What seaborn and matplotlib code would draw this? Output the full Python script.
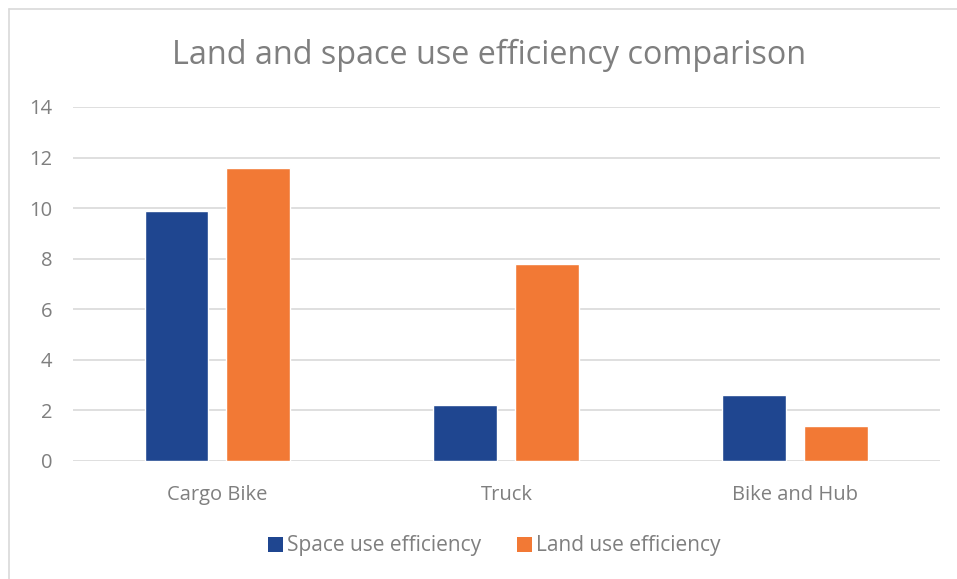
import matplotlib
matplotlib.use("Agg")
import matplotlib.pyplot as plt
from matplotlib.lines import Line2D
from matplotlib.patches import Patch
import seaborn as sns
import pandas as pd

categories = ["Cargo Bike", "Truck", "Bike and Hub"]
space_use = [9.9, 2.2, 2.6]
land_use = [11.6, 7.8, 1.4]
series_names = ["Space use efficiency", "Land use efficiency"]
colors = ["#1F4690", "#F27935"]
y_ticks = [0, 2, 4, 6, 8, 10, 12, 14]

df = pd.DataFrame({
    "category": categories * 2,
    "value": space_use + land_use,
    "series": [series_names[0]] * 3 + [series_names[1]] * 3,
})

sns.set_theme(style="white")
plt.rcParams["font.family"] = ["Open Sans", "DejaVu Sans"]
text_color = "#7F7F7F"

fig = plt.figure(figsize=(9.57, 5.79), dpi=100)
ax = fig.add_axes([0.0763, 0.2038, 0.9057, 0.6114])

sns.barplot(data=df, x="category", y="value", hue="series",
            palette=colors, width=0.567, gap=0.22, ax=ax,
            legend=False, saturation=1)

ax.set_ylim(0, 14)
ax.set_xlim(-0.5, 2.5)
ax.set_yticks(y_ticks)
ax.yaxis.grid(True, color="#D9D9D9", linewidth=1.2)
ax.set_axisbelow(True)
for s in ax.spines.values():
    s.set_visible(False)
ax.set_xlabel("")
ax.set_ylabel("")
ax.tick_params(axis="both", length=0, labelsize=14.5, colors=text_color)
ax.tick_params(axis="y", pad=15)
ax.tick_params(axis="x", pad=17.5)
for lbl in ax.get_yticklabels():
    lbl.set_horizontalalignment("right")

fig.text(0.5115, 0.905, "Land and space use efficiency comparison",
         ha="center", va="center", fontsize=23.3, color=text_color)

handles = [Patch(facecolor=c, edgecolor="none") for c in colors]
fig.legend(handles, series_names, loc="center", bbox_to_anchor=(0.5165, 0.057),
           ncol=2, frameon=False, fontsize=15, labelcolor=text_color,
           handlelength=0.72, handleheight=0.72, handletextpad=0.2,
           columnspacing=1.7)

# light chart-area frame
fig.add_artist(Line2D([0.0089, 1.0], [1 - 9 / 579, 1 - 9 / 579],
                      transform=fig.transFigure, color="#D9D9D9", linewidth=1.2))
fig.add_artist(Line2D([0.0089, 0.0089], [0.0, 1 - 9 / 579],
                      transform=fig.transFigure, color="#D9D9D9", linewidth=1.2))

fig.savefig("out.png", dpi=100, facecolor="white")
